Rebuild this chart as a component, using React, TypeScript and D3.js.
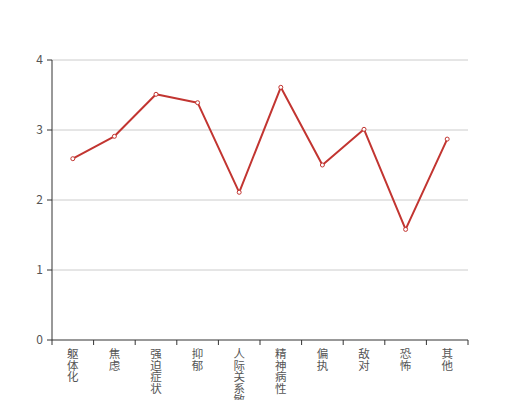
import React from "react";
import * as d3 from "d3";

const categories = ["躯体化", "焦虑", "强迫症状", "抑郁", "人际关系敏感", "精神病性", "偏执", "敌对", "恐怖", "其他"];
const values = [2.59, 2.91, 3.51, 3.39, 2.11, 3.61, 2.5, 3.01, 1.58, 2.87];
const yTicks = [0, 1, 2, 3, 4];

export default function App() {
  const W = 520, H = 400;
  const left = 52, right = 468, top = 60, bottom = 340;
  const x = d3.scaleBand<string>().domain(categories).range([left, right]);
  const y = d3.scaleLinear().domain([0, 4]).range([bottom, top]);
  const line = d3.line<number>()
    .x((_, i) => (x(categories[i]) as number) + x.bandwidth() / 2)
    .y((d) => y(d));
  const font = "'Noto Sans CJK SC', 'Noto Sans', sans-serif";
  const boundaries = categories.map((c) => x(c) as number).concat([right]);
  return (
    <svg width={W} height={H} style={{ position: "absolute", left: 0, top: 0 }} fontFamily={font}>
      {yTicks.map((t) => (
        <g key={t}>
          {t > 0 && <line x1={left} x2={right} y1={y(t)} y2={y(t)} stroke="#ccc" strokeWidth={1} />}
          <line x1={left - 5} x2={left} y1={y(t)} y2={y(t)} stroke="#333" />
          <text x={left - 9} y={y(t)} dy="0.35em" textAnchor="end" fontSize={12} fill="#555">{t}</text>
        </g>
      ))}
      <line x1={left} x2={left} y1={top} y2={bottom} stroke="#333" />
      <line x1={left} x2={right} y1={bottom} y2={bottom} stroke="#333" />
      {boundaries.map((b, i) => (
        <line key={i} x1={b} x2={b} y1={bottom} y2={bottom + 5} stroke="#333" />
      ))}
      {categories.map((c) => (
        <text key={c} fontSize={11.5} fill="#555" textAnchor="middle">
          {Array.from(c).map((ch, j) => (
            <tspan key={j} x={(x(c) as number) + x.bandwidth() / 2} y={358 + j * 11.5}>{ch}</tspan>
          ))}
        </text>
      ))}
      <path d={line(values) || ""} fill="none" stroke="#c23531" strokeWidth={2} strokeLinejoin="bevel" />
      {values.map((v, i) => (
        <circle key={i} cx={(x(categories[i]) as number) + x.bandwidth() / 2} cy={y(v)} r={2} fill="#fff" stroke="#c23531" strokeWidth={1} />
      ))}
    </svg>
  );
}
